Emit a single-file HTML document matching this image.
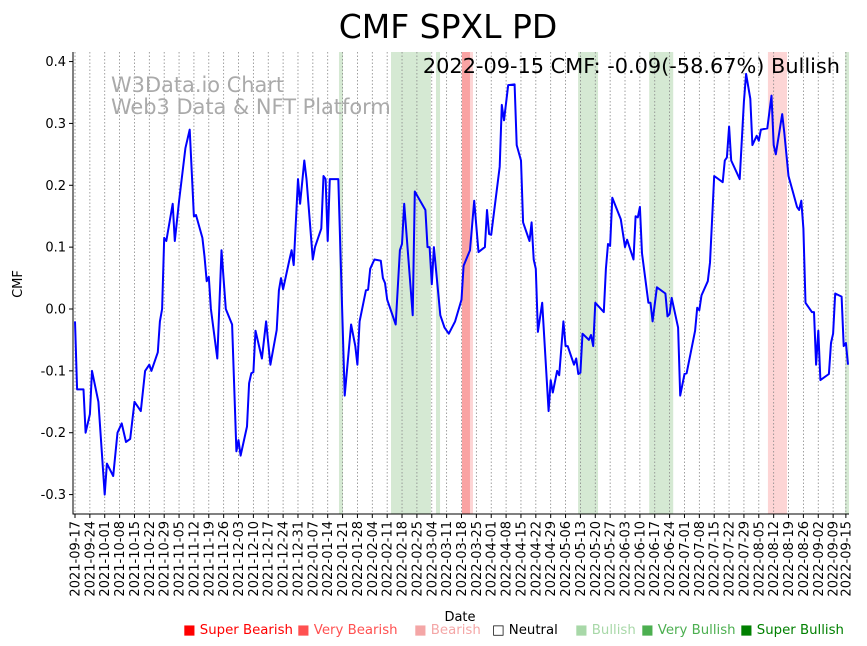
<!DOCTYPE html>
<html><head><meta charset="utf-8"><style>
body{margin:0;background:#fff;}
svg{display:block;font-family:"DejaVu Sans","Liberation Sans",sans-serif;}
</style></head><body>
<svg id="chart" width="867" height="646" viewBox="0 0 867 646">
<rect width="867" height="646" fill="#fff"/>
<text x="448" y="38" font-size="33" text-anchor="middle">CMF SPXL PD</text>
<g id="bands"></g>
<g id="grid"></g>
<g id="series"></g>
<g id="axes"></g>
<text x="111" y="92" font-size="20.9" fill="#aaa">W3Data.io Chart</text>
<text x="111" y="114" font-size="20.9" fill="#aaa">Web3 Data &amp; NFT Platform</text>
<text x="840" y="73" font-size="20.85" text-anchor="end">2022-09-15 CMF: -0.09(-58.67%) Bullish</text>
<text transform="translate(22,284) rotate(-90)" font-size="13" text-anchor="middle">CMF</text>
<text x="460" y="621" font-size="13" text-anchor="middle">Date</text>
<g font-size="13.3">
<text x="183" y="634" fill="#ff0000">■ Super Bearish</text>
<text x="297" y="634" fill="#ff5050">■ Very Bearish</text>
<text x="414" y="634" fill="#f4a6a6">■ Bearish</text>
<text x="492" y="634" fill="#000">□ Neutral</text>
<text x="575" y="634" fill="#a8d8a8">■ Bullish</text>
<text x="641" y="634" fill="#4caf50">■ Very Bullish</text>
<text x="740" y="634" fill="#008000">■ Super Bullish</text>
</g>
</svg>
<script>
const days=[0,1,4,5,7,8,11,14,15,18,20,22,24,26,28,31,33,35,36,39,40,41,42,43,46,47,49,52,54,56,57,60,61,62,63,64,67,69,71,74,76,77,78,81,82,83,84,85,88,90,92,95,96,97,98,101,102,103,105,106,108,109,112,113,116,117,118,119,120,124,127,130,132,133,134,137,138,139,141,144,145,146,147,151,153,154,155,159,160,165,166,167,168,169,172,174,176,179,182,183,186,188,190,193,194,195,196,200,201,202,204,207,208,210,211,214,215,216,217,218,220,223,224,225,227,228,230,231,232,234,235,236,237,238,239,242,243,244,245,249,250,251,252,253,257,259,260,263,264,265,266,267,270,271,272,274,278,279,280,281,284,285,287,288,292,293,294,295,298,299,301,305,306,307,308,309,313,315,316,318,319,321,322,323,326,328,329,330,333,334,336,338,340,341,342,343,344,347,348,349,350,351,355,356,357,358,361,362,363,364];
const cmf=[-0.02,-0.13,-0.13,-0.2,-0.17,-0.1,-0.15,-0.3,-0.25,-0.27,-0.2,-0.185,-0.215,-0.21,-0.15,-0.165,-0.1,-0.09,-0.1,-0.07,-0.02,0.0,0.115,0.11,0.17,0.11,0.175,0.26,0.29,0.15,0.152,0.115,0.085,0.045,0.052,0.0,-0.08,0.095,0.0,-0.025,-0.23,-0.212,-0.237,-0.19,-0.12,-0.104,-0.102,-0.035,-0.08,-0.02,-0.09,-0.034,0.03,0.05,0.032,0.08,0.095,0.071,0.21,0.17,0.24,0.21,0.08,0.1,0.13,0.215,0.21,0.11,0.21,0.21,-0.14,-0.025,-0.06,-0.09,-0.02,0.03,0.031,0.065,0.08,0.078,0.05,0.042,0.015,-0.025,0.095,0.105,0.17,-0.01,0.19,0.16,0.1,0.1,0.04,0.1,-0.01,-0.03,-0.04,-0.02,0.015,0.07,0.095,0.175,0.092,0.1,0.16,0.121,0.12,0.23,0.33,0.305,0.362,0.363,0.265,0.24,0.14,0.11,0.14,0.08,0.065,-0.037,0.01,-0.165,-0.115,-0.135,-0.1,-0.107,-0.02,-0.06,-0.06,-0.08,-0.09,-0.08,-0.105,-0.103,-0.04,-0.05,-0.042,-0.06,0.01,-0.005,0.065,0.105,0.102,0.18,0.145,0.1,0.112,0.08,0.15,0.148,0.165,0.09,0.01,0.01,-0.02,0.035,0.025,-0.012,-0.008,0.018,-0.03,-0.14,-0.105,-0.104,-0.035,0.002,-0.002,0.022,0.045,0.075,0.215,0.205,0.24,0.245,0.295,0.24,0.21,0.335,0.38,0.34,0.265,0.28,0.272,0.29,0.292,0.345,0.265,0.25,0.315,0.285,0.215,0.19,0.165,0.16,0.175,0.13,0.01,-0.005,-0.005,-0.09,-0.035,-0.115,-0.105,-0.055,-0.04,0.025,0.02,-0.06,-0.055,-0.09];
const bandStart=[124.3,148.8,170.0,182.2,186.0,236.9,270.4,326.3,362.6];
const bandEnd=[126.2,167.6,171.9,186.0,187.4,246.3,281.7,335.3,364.5];
const bandColor=["#d5e9d3","#d5e9d3","#d5e9d3","#f9a3a3","#fdd5d5","#d5e9d3","#d5e9d3","#fdd5d5","#d5e9d3"];
const yTicks=[-0.3,-0.2,-0.1,0.0,0.1,0.2,0.3,0.4];
const tickDays=[0,7,14,21,28,35,42,49,56,63,70,77,84,91,98,105,112,119,126,133,140,147,154,161,168,175,182,189,196,203,210,217,224,231,238,245,252,259,266,273,280,287,294,301,308,315,322,329,336,343,350,357,363];
const startDate="2021-09-17";

const X0=73,X1=849,Y0=52,Y1=514;
function xScale(d){return 75+d*2.1236;}
function yScale(v){return 309-v*618.6;}
const NS="http://www.w3.org/2000/svg";
function mk(tag,parent){const e=document.createElementNS(NS,tag);document.getElementById(parent).appendChild(e);return e;}

bandStart.forEach((s,i)=>{
 const r=mk('rect','bands');
 
 
 r.setAttribute('x',xScale(s));r.setAttribute('y',Y0);
 r.setAttribute('width',xScale(bandEnd[i])-xScale(s));r.setAttribute('height',Y1-Y0);
 r.setAttribute('fill',bandColor[i]);
});

const base=new Date(startDate+"T00:00:00Z");
tickDays.forEach(d=>{
 const x=Math.min(xScale(d),848);
 const g=mk('line','grid');
 
 
 g.setAttribute('x1',x);g.setAttribute('x2',x);g.setAttribute('y1',Y0);g.setAttribute('y2',Y1);
 g.setAttribute('stroke','#888');g.setAttribute('stroke-width','0.8');g.setAttribute('stroke-dasharray','1.5,2');
 const t=mk('line','axes');
 
 
 t.setAttribute('x1',x);t.setAttribute('x2',x);t.setAttribute('y1',Y1);t.setAttribute('y2',Y1+4);t.setAttribute('stroke','#000');
 const dt=new Date(base.getTime()+d*86400000);
 const lab=mk('text','axes');
 
 
 lab.setAttribute('font-size','13');lab.setAttribute('text-anchor','end');
 lab.setAttribute('transform','translate('+(x+4.5)+','+(Y1+7)+') rotate(-90)');
 lab.textContent=dt.toISOString().slice(0,10);
});
yTicks.forEach(v=>{
 const y=yScale(v);
 const t=mk('line','axes');
 
 
 t.setAttribute('x1',X0-4);t.setAttribute('x2',X0);t.setAttribute('y1',y);t.setAttribute('y2',y);t.setAttribute('stroke','#000');
 const l=mk('text','axes');
 
 
 l.setAttribute('x',X0-7);l.setAttribute('y',y+4.5);l.setAttribute('font-size','13');l.setAttribute('text-anchor','end');
 l.textContent=v.toFixed(1);
});
const ax=mk('path','axes');


ax.setAttribute('d','M'+X0+' '+Y0+'V'+Y1+'H'+X1);ax.setAttribute('fill','none');ax.setAttribute('stroke','#000');ax.setAttribute('stroke-width','1');

const line=mk('path','series');


line.setAttribute('d',days.map((d,i)=>(i?'L':'M')+xScale(d).toFixed(1)+' '+yScale(cmf[i]).toFixed(1)).join(''));
line.setAttribute('fill','none');line.setAttribute('stroke','#0000ff');line.setAttribute('stroke-width','2');line.setAttribute('stroke-linejoin','round');
</script>
</body></html>
